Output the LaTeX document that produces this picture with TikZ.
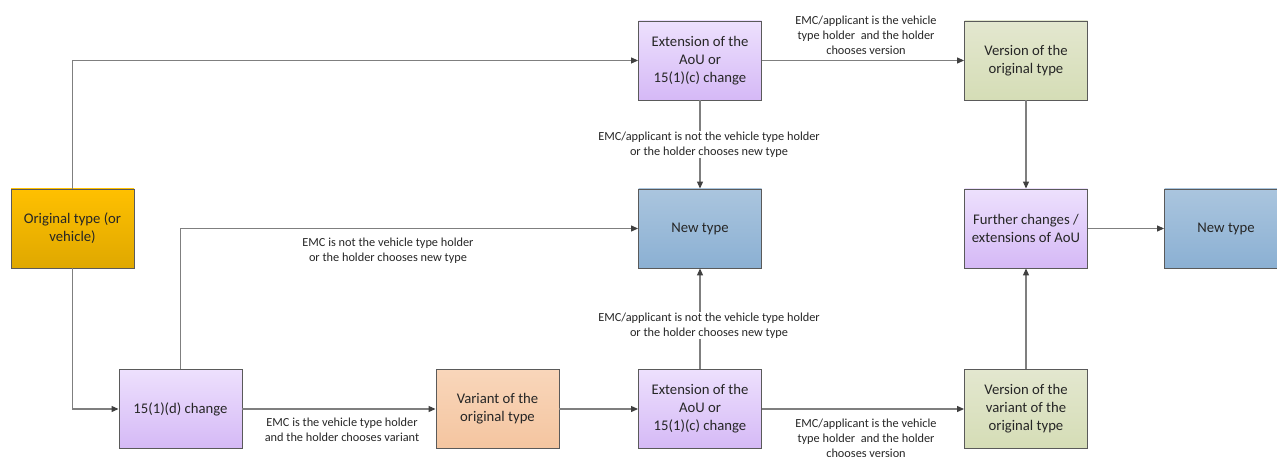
\documentclass[tikz,border=0pt]{standalone}
\usepackage{fontspec}
\setmainfont{Carlito}
\usetikzlibrary{arrows.meta}
\definecolor{linegray}{HTML}{7F7F7F}
\definecolor{tipgray}{HTML}{404040}
\definecolor{boxline}{HTML}{5A5A5A}
\definecolor{txt}{HTML}{262626}
\definecolor{orig1}{HTML}{FFC000}
\definecolor{orig2}{HTML}{DFA800}
\definecolor{purp1}{HTML}{EDE0FD}
\definecolor{purp2}{HTML}{D5B9F6}
\definecolor{peach1}{HTML}{F9D6BA}
\definecolor{peach2}{HTML}{F4C5A0}
\definecolor{green1}{HTML}{E3E7CF}
\definecolor{green2}{HTML}{D5DDB6}
\definecolor{blue1}{HTML}{AAC5DE}
\definecolor{blue2}{HTML}{8BB0D3}
\begin{document}
\begin{tikzpicture}[x=1pt, y=-1pt,
  box/.style={draw=boxline, line width=0.9pt, minimum width=123pt, minimum height=79pt,
    align=center, inner sep=2pt, text=txt, font=\fontsize{14.7}{18}\selectfont},
  origbox/.style={box, top color=orig1, bottom color=orig2},
  purplebox/.style={box, top color=purp1, bottom color=purp2},
  peachbox/.style={box, top color=peach1, bottom color=peach2},
  greenbox/.style={box, top color=green1, bottom color=green2},
  bluebox/.style={box, top color=blue1, bottom color=blue2},
  conn/.style={draw=linegray, line width=1.1pt, -{Triangle[length=7pt, width=6pt, fill=tipgray, color=tipgray]}},
  lbl/.style={align=center, text=txt, inner sep=1pt, font=\fontsize{12.3}{15}\selectfont},
]
\useasboundingbox (0,0) rectangle (1277,457);
\node[origbox] (orig) at (72.5,228.5){Original type (or\\vehicle)};
\node[purplebox] (chd) at (180.5,409){15(1)(d) change};
\node[peachbox] (variant) at (497.5,409){Variant of the\\original type};
\node[purplebox] (extB) at (700,409){Extension of the\\AoU or\\15(1)(c) change};
\node[bluebox] (newC) at (700,228.5){New type};
\node[purplebox] (extT) at (700,60.5){Extension of the\\AoU or\\15(1)(c) change};
\node[greenbox] (verT) at (1026,60.5){Version of the\\original type};
\node[purplebox] (further) at (1026,228.5){Further changes /\\extensions of AoU};
\node[greenbox] (verB) at (1026,409){Version of the\\variant of the\\original type};
\node[bluebox] (newR) at (1226,228.5){New type};
% connectors
\draw[conn](orig) |- (extT);
\draw[conn](orig) |- (chd);
\draw[conn](chd) |- (newC);
\draw[conn](chd) -- (variant);
\draw[conn](variant) -- (extB);
\draw[conn](extT) -- (newC);
\draw[conn](extB) -- (newC);
\draw[conn](extT) -- (verT);
\draw[conn](extB) -- (verB);
\draw[conn](verT) -- (further);
\draw[conn](verB) -- (further);
\draw[conn](further) -- (newR);
% labels
\node[lbl] (lblA) at (388,251){EMC is not the vehicle type holder\\or the holder chooses new type};
\node[lbl] (lblB) at (342,429.5){EMC is the vehicle type holder\\and the holder chooses variant};
\node[lbl, fill=white] (lblC) at (709,144.5){EMC/applicant is not the vehicle type holder\\or the holder chooses new type};
\node[lbl, fill=white] (lblD) at (709,325.5){EMC/applicant is not the vehicle type holder\\or the holder chooses new type};
\node[lbl] (lblE) at (866,35){EMC/applicant is the vehicle\\type holder\ \ and the holder\\chooses version};
\node[lbl] (lblF) at (866,438){EMC/applicant is the vehicle\\type holder\ \ and the holder\\chooses version};
\end{tikzpicture}
\end{document}
